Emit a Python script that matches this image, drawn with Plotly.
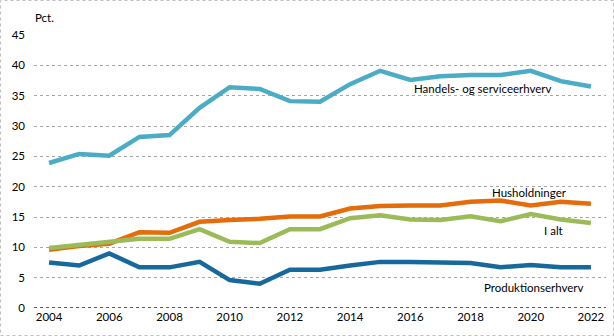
import plotly.graph_objects as go

years = list(range(2004, 2023))

handels = [23.9, 25.4, 25.1, 28.2, 28.5, 33.0, 36.4, 36.1, 34.1, 34.0, 36.9, 39.1,
           37.6, 38.2, 38.4, 38.4, 39.1, 37.4, 36.5]
husholdninger = [9.6, 10.2, 10.6, 12.5, 12.4, 14.2, 14.5, 14.7, 15.1, 15.1, 16.4, 16.8,
                 16.9, 16.9, 17.5, 17.7, 16.9, 17.5, 17.2]
i_alt = [9.9, 10.4, 11.0, 11.4, 11.4, 13.0, 10.9, 10.7, 13.0, 13.0, 14.8, 15.3,
         14.6, 14.5, 15.1, 14.3, 15.5, 14.6, 14.0]
produktion = [7.5, 7.0, 9.0, 6.7, 6.7, 7.6, 4.6, 4.0, 6.3, 6.3, 7.0, 7.6,
              7.6, 7.5, 7.4, 6.7, 7.1, 6.7, 6.7]

series = [
    ("Handels- og serviceerhverv", handels, "#4BACC6"),
    ("Husholdninger", husholdninger, "#E46C0A"),
    ("I alt", i_alt, "#9BBB59"),
    ("Produktionserhverv", produktion, "#17699C"),
]

FONT = "Lato, 'Open Sans', sans-serif"

fig = go.Figure()
for name, vals, color in series:
    fig.add_trace(go.Scatter(
        x=years, y=vals, name=name, mode="lines",
        line=dict(color=color, width=4.5),
        hoverinfo="x+y",
    ))

# In-plot series labels
labels = [
    ("Handels- og serviceerhverv", 2018.4, 36.1),
    ("Husholdninger", 2019.95, 19.1),
    ("I alt", 2020.75, 12.75),
    ("Produktionserhverv", 2020.1, 3.45),
]
for text, x, y in labels:
    fig.add_annotation(x=x, y=y, text=text, showarrow=False,
                       xanchor="center", yanchor="middle",
                       font=dict(family=FONT, size=11.5, color="#000000"))

# Unit label above the value axis
fig.add_annotation(xref="paper", yref="paper", x=-0.002, y=1.0, yshift=18,
                   text="Pct.", showarrow=False, xanchor="left", yanchor="middle",
                   font=dict(family=FONT, size=11.5, color="#000000"))

# Light dotted frame around the whole chart
W, H = 614, 336
L, R, T, B = 34, 8, 35, 28
pw, ph = W - L - R, H - T - B
fig.add_shape(type="rect", xref="paper", yref="paper",
              x0=-(L - 0.5) / pw, x1=1 + (R - 0.5) / pw,
              y0=-(B - 0.5) / ph, y1=1 + (T - 0.5) / ph,
              line=dict(color="#BFBFBF", width=1, dash="dot"))

fig.update_layout(
    width=W, height=H,
    margin=dict(l=L, r=R, t=T, b=B),
    paper_bgcolor="white", plot_bgcolor="white",
    showlegend=False,
    font=dict(family=FONT, size=11.5, color="#000000"),
    xaxis=dict(
        range=[2003.5, 2022.5],
        tickmode="array", tickvals=list(range(2004, 2023, 2)),
        ticktext=[str(y) for y in range(2004, 2023, 2)],
        showgrid=False, zeroline=False, showline=False,
        ticks="", ticklen=0, tickfont=dict(size=11.5),
    ),
    yaxis=dict(
        range=[0, 45], dtick=5, tick0=0,
        showgrid=True, gridcolor="#A6A6A6", gridwidth=1, griddash="dot",
        zeroline=False, showline=False,
        ticks="", ticklabelstandoff=8, tickfont=dict(size=11.5),
    ),
)

# Baseline at zero
fig.add_shape(type="line", xref="paper", yref="y", x0=0, x1=1, y0=0, y1=0,
              line=dict(color="#262626", width=1.5, dash="dot"), layer="below")

fig.write_html("out.html")
